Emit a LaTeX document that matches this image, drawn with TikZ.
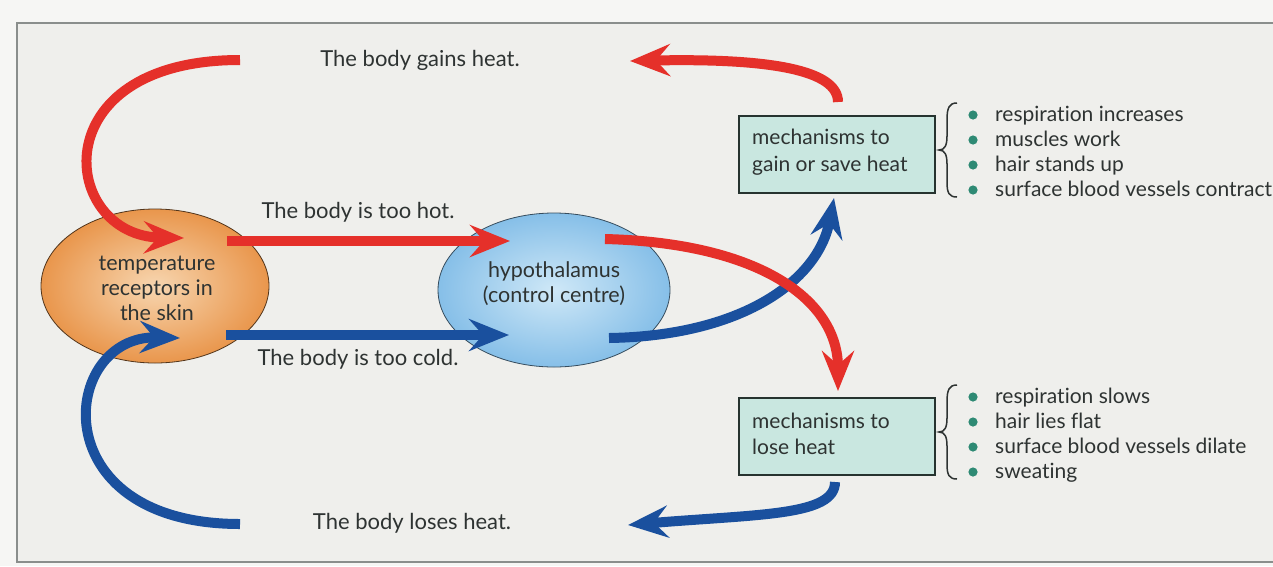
\documentclass[tikz,border=0pt]{standalone}
\usepackage{fontspec}
\setmainfont{Lato}[Ligatures={NoCommon}]
\usetikzlibrary{arrows.meta}
\definecolor{bgout}{HTML}{F6F6F4}
\definecolor{bgin}{HTML}{EFEFEC}
\definecolor{framecol}{HTML}{8A8E8C}
\definecolor{hotred}{HTML}{E5302A}
\definecolor{coldblue}{HTML}{1A509E}
\definecolor{orin}{HTML}{F7D6B0}
\definecolor{orout}{HTML}{E9964C}
\definecolor{blin}{HTML}{CFE8F7}
\definecolor{blout}{HTML}{86BFE8}
\definecolor{boxfill}{HTML}{C9E7E0}
\definecolor{boxline}{HTML}{26332F}
\definecolor{txt}{HTML}{2E3332}
\definecolor{bulletc}{HTML}{2E8A74}
\tikzset{
  arr/.style={line width=10pt, -{Stealth[length=40pt,width=32pt,inset=14pt]}},
  hot/.style={arr, draw=hotred, color=hotred},
  cold/.style={arr, draw=coldblue, color=coldblue},
  lbl/.style={text=txt, font=\fontsize{22}{26}\selectfont, inner sep=0pt},
  ellt/.style={text=txt, font=\fontsize{21.5}{25}\selectfont, inner sep=0pt, align=center},
  boxt/.style={text=txt, font=\fontsize{21}{26.5}\selectfont, inner sep=0pt, align=left, anchor=west},
  mechbox/.style={draw=boxline, line width=2pt, fill=boxfill, minimum width=196pt, minimum height=77pt, inner sep=0pt},
  bulfill/.style={fill=bulletc},
  item/.style={text=txt, font=\fontsize{21}{25}\selectfont, inner sep=0pt, anchor=base west},
  bracestyle/.style={draw=txt, line width=1.5pt}
}
\begin{document}
\begin{tikzpicture}[x=1pt,y=-1pt]
\useasboundingbox (0,0) rectangle (1273,566);
\fill[bgout] (0,0) rectangle (1273,566);
\filldraw[fill=bgin, draw=framecol, line width=1.2pt] (17,23) rectangle (1290,562);

% ellipses
\shade[inner color=orin, outer color=orout] (155,286) ellipse [x radius=114, y radius=77];
\draw[draw=black!65!orout, line width=0.8pt] (155,286) ellipse [x radius=114, y radius=77];
\shade[inner color=blin, outer color=blout] (554,290) ellipse [x radius=116, y radius=77];
\draw[draw=black!60!blout, line width=0.8pt] (554,290) ellipse [x radius=116, y radius=77];
\node[ellt] (rec) at (157,288) {temperature\\receptors in\\the skin};
\node[ellt] (hyp) at (554,284) {hypothalamus\\(control centre)};

% boxes
\node[mechbox] (gainbox) at (837,154.5) {};
\node[boxt] (gaintxt) at (752,152) {mechanisms to\\gain or save heat};
\node[mechbox] (losebox) at (837,436.5) {};
\node[boxt] (losetxt) at (752,434) {mechanisms to\\lose heat};

% labels
\node[lbl] (gains) at (420,60) {The body gains heat.};
\node[lbl] (loses) at (412,523) {The body loses heat.};
\node[lbl] (toohot) at (358,212) {The body is too hot.};
\node[lbl] (toocold) at (358,359) {The body is too cold.};

% coordinates
\coordinate (g0) at (240,60);
\coordinate (g1) at (184,238);
\coordinate (h0) at (227,241);
\coordinate (h1) at (510,241);
\coordinate (r0) at (605,239);
\coordinate (r1) at (838,391);
\coordinate (u0) at (838,102);
\coordinate (u1) at (630,61);
\coordinate (c0) at (226,335);
\coordinate (c1) at (509,335);
\coordinate (b0) at (609,338);
\coordinate (b1) at (834,198);
\coordinate (d0) at (835,482);
\coordinate (d1) at (628,525);
\coordinate (l0) at (240,524);
\coordinate (l1) at (180,338);

% blue arrows
\draw[cold] (c0) -- (c1);
\draw[cold] (b0) .. controls (740,336) and (818,282) .. (b1);
\draw[cold] (d0) .. controls (835,516) and (760,514) .. (d1);
\draw[cold] (l0) .. controls (40,524) and (60,335) .. (l1);
% red arrows
\draw[hot] (g0) .. controls (40,60) and (60,236) .. (g1);
\draw[hot] (h0) -- (h1);
\draw[hot] (r0) .. controls (760,243) and (838,300) .. (r1);
\draw[hot] (u0) .. controls (838,70) and (770,58) .. (u1);

% braces
\draw[bracestyle] (957,103) .. controls (949,103) and (947,108) .. (947,120) -- (947,136)
  .. controls (947,145) and (945,150) .. (939,150)
  .. controls (945,150) and (947,155) .. (947,164) -- (947,182)
  .. controls (947,193) and (949,197) .. (957,197);
\draw[bracestyle] (957,385) .. controls (949,385) and (947,390) .. (947,402) -- (947,418)
  .. controls (947,427) and (945,432) .. (939,432)
  .. controls (945,432) and (947,437) .. (947,446) -- (947,464)
  .. controls (947,475) and (949,479) .. (957,479);

% lists
\fill[bulfill] (973,115) circle [radius=4.6];
\fill[bulfill] (973,140) circle [radius=4.6];
\fill[bulfill] (973,165) circle [radius=4.6];
\fill[bulfill] (973,190) circle [radius=4.6];
\node[item] (gi1) at (995,121) {respiration increases};
\node[item] (gi2) at (995,146) {muscles work};
\node[item] (gi3) at (995,171) {hair stands up};
\node[item] (gi4) at (995,196) {surface blood vessels contract};
\fill[bulfill] (973,397) circle [radius=4.6];
\fill[bulfill] (973,422) circle [radius=4.6];
\fill[bulfill] (973,447) circle [radius=4.6];
\fill[bulfill] (973,472) circle [radius=4.6];
\node[item] (li1) at (995,403) {respiration slows};
\node[item] (li2) at (995,428) {hair lies flat};
\node[item] (li3) at (995,453) {surface blood vessels dilate};
\node[item] (li4) at (995,478) {sweating};
\end{tikzpicture}
\end{document}
